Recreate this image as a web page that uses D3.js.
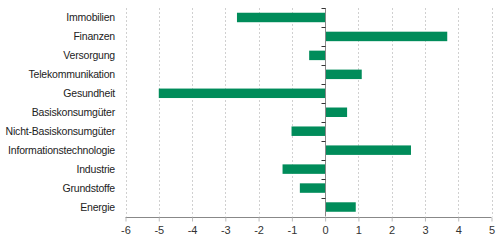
<!DOCTYPE html>
<html><head><meta charset="utf-8">
<script src="https://cdn.jsdelivr.net/npm/d3@7"></script>
<style>
html,body{margin:0;padding:0;background:#fff;}
svg{display:block;}
text{font-family:"Liberation Sans",Arial,sans-serif;}
</style></head>
<body><svg id="c" width="500" height="244"></svg>
<script>
const categories = ["Immobilien","Finanzen","Versorgung","Telekommunikation","Gesundheit","Basiskonsumgüter","Nicht-Basiskonsumgüter","Informationstechnologie","Industrie","Grundstoffe","Energie"];
const values = [-2.65, 3.67, -0.48, 1.1, -5.0, 0.66, -1.01, 2.58, -1.28, -0.76, 0.92];
const xTicks = [-6,-5,-4,-3,-2,-1,0,1,2,3,4,5];

(function(){
const svg = d3.select("#c");
const pL = 125.5, pR = 491.5, pT = 8, pB = 216.5;
const x = d3.scaleLinear().domain([-6,5]).range([pL,pR]);
const y = d3.scaleBand().domain(categories).range([pT,pB]).paddingInner(0.5).paddingOuter(0.25);

// gridlines
svg.append("g").selectAll("line").data(xTicks.filter(d=>d!==0)).join("line")
  .attr("x1",d=>Math.round(x(d))+0.5).attr("x2",d=>Math.round(x(d))+0.5)
  .attr("y1",pT).attr("y2",pB)
  .attr("stroke","#d0d0d0").attr("stroke-dasharray","2,2").attr("stroke-width",1);

// bars
svg.append("g").selectAll("rect").data(categories).join("rect")
  .attr("x",(d,i)=>x(Math.min(0,values[i])))
  .attr("width",(d,i)=>Math.abs(x(values[i])-x(0)))
  .attr("y",d=>y(d)).attr("height",y.bandwidth())
  .attr("fill","#008c5a");

// zero line with category boundary ticks
const zx = Math.round(x(0))+0.5;
svg.append("line").attr("x1",zx).attr("x2",zx).attr("y1",pT).attr("y2",pB)
  .attr("stroke","#888").attr("stroke-width",1);
const step = (pB-pT)/categories.length;
svg.append("g").selectAll("line").data(d3.range(categories.length+1)).join("line")
  .attr("x1",zx-4).attr("x2",zx)
  .attr("y1",i=>Math.round(pT+i*step)+0.5).attr("y2",i=>Math.round(pT+i*step)+0.5)
  .attr("stroke","#333").attr("stroke-width",1);

// x axis
const ax = svg.append("g").attr("transform",`translate(0,${Math.round(pB)+0.5})`)
  .call(d3.axisBottom(x).tickValues(xTicks).tickSize(4).tickFormat(d3.format("d")));
ax.select(".domain").attr("stroke","#888").attr("d",`M${pL},0H${pR}`);
ax.selectAll(".tick line").attr("stroke","#bbb");
ax.selectAll(".tick text").attr("font-size","11px").attr("fill","#333").attr("dy","0.9em")
  .attr("font-family","Liberation Sans, Arial, sans-serif").text(d=>d<0?"-"+Math.abs(d):d);

// category labels
svg.append("g").selectAll("text").data(categories).join("text")
  .attr("x",115).attr("y",d=>y(d)+y.bandwidth()/2).attr("dy","0.35em")
  .attr("text-anchor","end").attr("font-size","10.5px").attr("fill","#222")
  .style("letter-spacing","-0.2px")
  .text(d=>d);
})();
</script></body></html>
